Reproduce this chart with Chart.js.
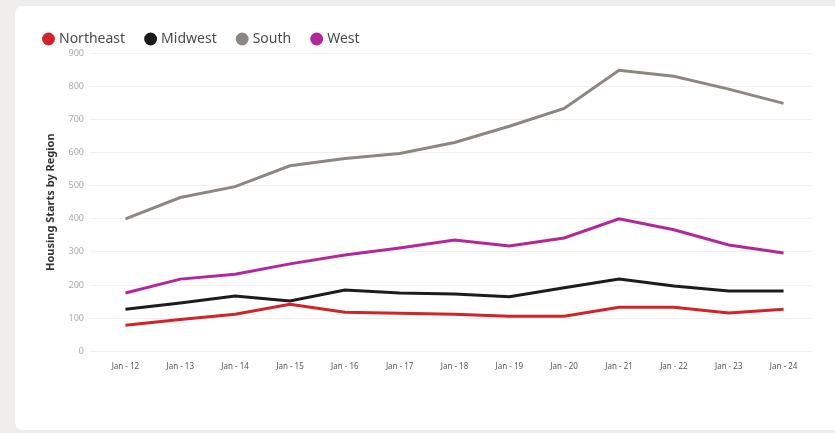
<!DOCTYPE html>
<html>
<head>
<meta charset="utf-8">
<script src="https://cdn.jsdelivr.net/npm/chart.js@4"></script>
<style>
  html, body { margin: 0; padding: 0; background: #efeeec; }
  body { width: 835px; height: 433px; position: relative; overflow: hidden; }
  .card { position: absolute; left: 15px; top: 6px; width: 830px; height: 424px; background: #fff; border-radius: 8px; }
  .wrap { position: absolute; left: 23px; top: 10px; width: 797px; height: 365px; }
</style>
</head>
<body>
<div class="card"></div>
<div class="wrap"><canvas id="chart"></canvas></div>
<script>
const labels = ['Jan - 12', 'Jan - 13', 'Jan - 14', 'Jan - 15', 'Jan - 16', 'Jan - 17', 'Jan - 18',
                'Jan - 19', 'Jan - 20', 'Jan - 21', 'Jan - 22', 'Jan - 23', 'Jan - 24'];
const northeast = [79, 96, 112, 142, 118, 115, 112, 106, 106, 133, 133, 116, 127];
const midwest = [127, 146, 167, 152, 185, 176, 173, 165, 192, 218, 197, 182, 182];
const south = [400, 464, 497, 560, 582, 597, 630, 679, 733, 848, 830, 791, 748];
const west = [176, 218, 233, 264, 291, 312, 336, 318, 342, 400, 367, 321, 297];

const line = (label, data, color) => ({
    label: label,
    data: data,
    borderColor: color,
    backgroundColor: color,
    borderWidth: 3,
    pointRadius: 0,
    tension: 0
});

// pull the plot a bit closer to the legend
const tightLegend = {
    id: 'tightLegend',
    afterInit(chart) {
        const fit = chart.legend.fit;
        chart.legend.fit = function () {
            fit.call(this);
            this.height -= 3;
        };
    }
};

new Chart(document.getElementById('chart'), {
    type: 'line',
    data: {
        labels: labels,
        datasets: [
            line('Northeast', northeast, '#d42229'),
            line('Midwest', midwest, '#1c1c1e'),
            line('South', south, '#8d8781'),
            line('West', west, '#b3279b')
        ]
    },
    plugins: [tightLegend],
    options: {
        responsive: true,
        maintainAspectRatio: false,
        animation: false,
        layout: { padding: { right: 9 } },
        plugins: {
            legend: {
                position: 'top',
                align: 'start',
                labels: {
                    usePointStyle: true,
                    pointStyle: 'circle',
                    boxWidth: 7,
                    boxHeight: 7,
                    padding: 22,
                    color: '#4a4a4a',
                    font: { family: 'Noto Sans', size: 14 }
                }
            },
            tooltip: { enabled: false }
        },
        scales: {
            x: {
                offset: true,
                grid: { display: false },
                border: { display: false },
                ticks: { color: '#555', font: { family: 'Noto Sans', size: 8 }, maxRotation: 0 }
            },
            y: {
                min: 0,
                max: 900,
                border: { display: false },
                grid: { color: '#f1f1f1' },
                afterFit(scale) { scale.width = 75; },
                ticks: { stepSize: 100, color: '#aaa', padding: 6, font: { family: 'Noto Sans', size: 9 } },
                title: {
                    display: true,
                    text: 'Housing Starts by Region',
                    color: '#333',
                    padding: { top: 21, bottom: 4 },
                    font: { family: 'Noto Sans', size: 11, weight: 'bold' }
                }
            }
        }
    }
});
</script>
</body>
</html>
